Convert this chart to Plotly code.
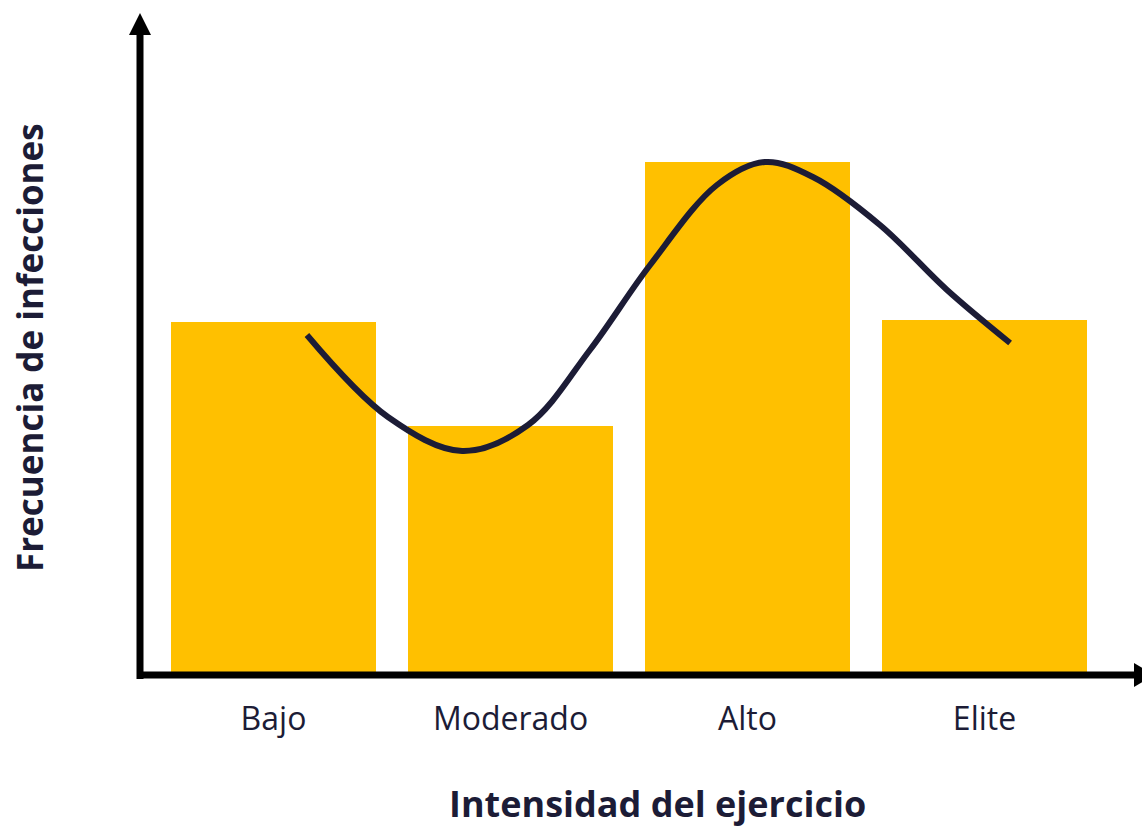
import plotly.graph_objects as go

# ---- data ----
categories = ["Bajo", "Moderado", "Alto", "Elite"]
frequency = [3.53, 2.49, 5.13, 3.55]

# trend curve (x in category units, y in same units as bars)
curve_x = [0.141, 0.483, 0.796, 1.074, 1.335, 1.589, 1.871, 2.074, 2.276, 2.559,
           2.842, 3.108]
curve_y = [3.40, 2.58, 2.24, 2.50, 3.25, 4.10, 4.90, 5.13, 4.98, 4.50,
           3.85, 3.32]

x_title = "Intensidad del ejercicio"
y_title = "Frecuencia de infecciones"

BAR = "#FFC000"
INK = "#1c1c36"
AXIS = "#000000"

W, H = 1142, 828
ML, MR, MT, MB = 140, 0, 15, 153
PW, PH = W - ML - MR, H - MT - MB


def px(p):
    return (p - ML) / PW


def py(p):
    return (H - MB - p) / PH


fig = go.Figure()
fig.add_trace(go.Bar(x=list(range(len(categories))), y=frequency,
                     marker=dict(color=BAR, line=dict(width=0)),
                     width=0.865, hoverinfo="skip"))
fig.add_trace(go.Scatter(x=curve_x, y=curve_y, mode="lines",
                         line=dict(color=INK, width=6, shape="spline", smoothing=1.0),
                         hoverinfo="skip"))

shapes = [
    # y axis
    dict(type="line", xref="paper", yref="paper", x0=px(140), x1=px(140),
         y0=py(679), y1=py(30), line=dict(color=AXIS, width=7)),
    dict(type="path", xref="paper", yref="paper",
         path=f"M {px(129)} {py(35)} L {px(140)} {py(13)} L {px(151)} {py(35)} Z",
         fillcolor=AXIS, line=dict(width=0)),
    # x axis
    dict(type="line", xref="paper", yref="paper", x0=px(137), x1=px(1136),
         y0=py(675), y1=py(675), line=dict(color=AXIS, width=7)),
    dict(type="path", xref="paper", yref="paper",
         path=f"M {px(1134)} {py(663)} L {px(1154)} {py(675)} L {px(1134)} {py(687)} Z",
         fillcolor=AXIS, line=dict(width=0)),
]

annotations = [
    dict(text=f"<b>{x_title}</b>", xref="paper", yref="paper",
         x=px(657), y=py(803), xanchor="center", yanchor="middle",
         showarrow=False, font=dict(size=36, color=INK, family="Open Sans")),
    dict(text=f"<b>{y_title}</b>", xref="paper", yref="paper",
         x=px(29), y=py(348), xanchor="center", yanchor="middle", textangle=-90,
         showarrow=False, font=dict(size=35, color=INK, family="Open Sans")),
]

fig.update_layout(
    width=W, height=H,
    margin=dict(l=ML, r=MR, t=MT, b=MB, pad=0),
    paper_bgcolor="white", plot_bgcolor="white",
    showlegend=False, bargap=0,
    shapes=shapes, annotations=annotations,
    font=dict(family="Open Sans", color=INK),
)
fig.update_xaxes(range=[(ML - 273.5) / 237, (ML - 273.5) / 237 + PW / 237],
                 tickmode="array", tickvals=list(range(len(categories))),
                 ticktext=categories, showgrid=False, zeroline=False,
                 showline=False, ticks="outside", ticklen=16,
                 tickcolor="rgba(0,0,0,0)",
                 tickfont=dict(size=32, color=INK, family="Open Sans"))
fig.update_yaxes(range=[0, PH / 100], showgrid=False, zeroline=False,
                 showline=False, showticklabels=False, ticks="")

fig.write_html("out.html")
